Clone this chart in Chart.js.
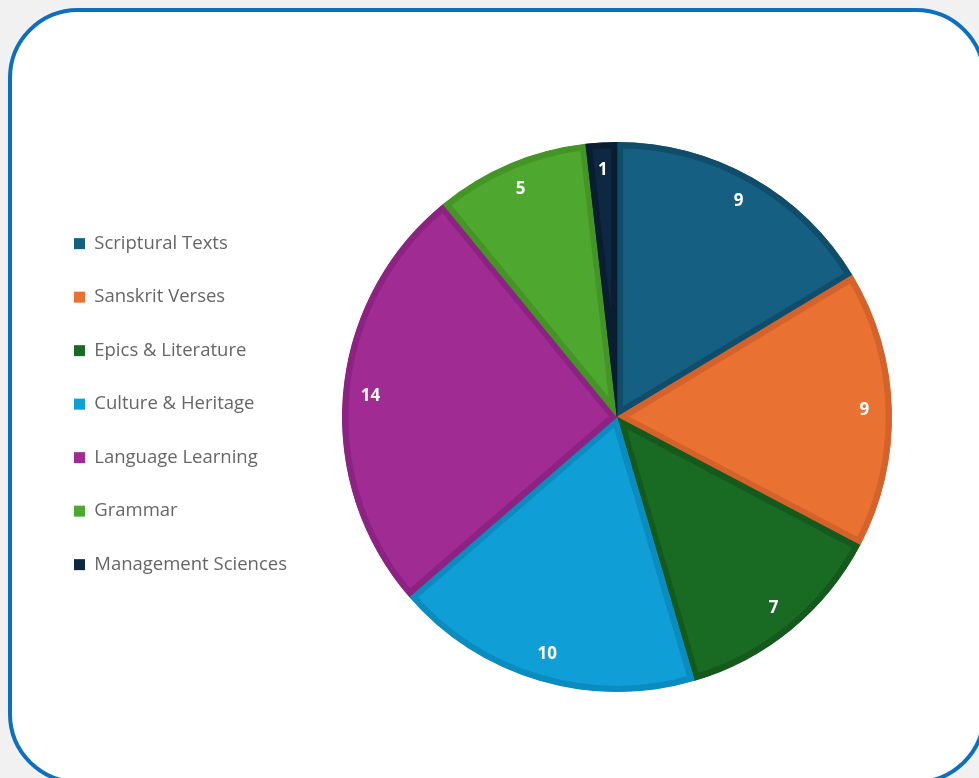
<!DOCTYPE html>
<html>
<head>
<meta charset="utf-8">
<script src="https://cdn.jsdelivr.net/npm/chart.js@4.4.1/dist/chart.umd.min.js"></script>
<style>
  html, body { margin: 0; padding: 0; background: #f1f1f1; overflow: hidden; }
  .frame {
    position: absolute; left: 8px; top: 8px; width: 970px; height: 768px;
    border: 4px solid #0d6fbf; border-radius: 70px; background: #fff;
  }
  #pieChart { position: absolute; left: 0; top: 0; }
</style>
</head>
<body>
<div class="frame"></div>
<canvas id="pieChart" width="979" height="778"></canvas>
<script>
// chart data
const categories = ['Scriptural Texts', 'Sanskrit Verses', 'Epics & Literature', 'Culture & Heritage', 'Language Learning', 'Grammar', 'Management Sciences'];
const counts = [9, 9, 7, 10, 14, 5, 1];
const fillColors = ['#156082', '#e97132', '#196b24', '#0f9ed5', '#a02b93', '#4ea72e', '#0e2841'];
const edgeColors = ['#0f4d6b', '#d4622a', '#145a1d', '#0b8cc0', '#8c2281', '#449526', '#0a1d31'];

// white value labels inside each slice
const sliceLabels = {
  id: 'sliceLabels',
  afterDatasetsDraw(chart) {
    const ctx = chart.ctx;
    const meta = chart.getDatasetMeta(0);
    ctx.save();
    ctx.fillStyle = '#ffffff';
    ctx.font = 'bold 17px "Open Sans"';
    ctx.textAlign = 'center';
    ctx.textBaseline = 'middle';
    meta.data.forEach((arc, i) => {
      const { x, y, startAngle, endAngle, outerRadius } = arc.getProps(['x', 'y', 'startAngle', 'endAngle', 'outerRadius'], true);
      const mid = (startAngle + endAngle) / 2;
      const r = outerRadius * 0.9;
      ctx.fillText(String(counts[i]), x + Math.cos(mid) * r, y + Math.sin(mid) * r);
    });
    ctx.restore();
  }
};

const ctx = document.getElementById('pieChart').getContext('2d');
const chart = new Chart(ctx, {
  type: 'pie',
  data: {
    labels: categories,
    datasets: [{
      data: counts,
      backgroundColor: fillColors,
      borderColor: edgeColors,
      borderWidth: 6,
      borderAlign: 'inner',
      hoverOffset: 0,
      radius: 275
    }]
  },
  options: {
    responsive: false,
    animation: false,
    layout: { padding: { left: 39, right: 40, top: 142, bottom: 86 } },
    plugins: {
      tooltip: { enabled: false },
      legend: {
        position: 'left',
        align: 'start',
        title: { display: true, text: '', padding: { top: 43, bottom: 0 } },
        labels: {
          boxWidth: 11,
          boxHeight: 11,
          padding: 35,
          color: '#595959',
          font: { family: 'Open Sans', size: 18.5 },
          generateLabels: (c) => categories.map((label, i) => ({
            text: label,
            fillStyle: fillColors[i],
            strokeStyle: fillColors[i],
            lineWidth: 0,
            hidden: false,
            index: i
          }))
        }
      }
    }
  },
  plugins: [sliceLabels]
});

// keep the pie centred at x = 617 whatever width the legend takes
const areaLeft = chart.chartArea.left;
chart.options.layout.padding.right = 979 - (2 * 617 - areaLeft);
chart.update('none');
</script>
</body>
</html>
